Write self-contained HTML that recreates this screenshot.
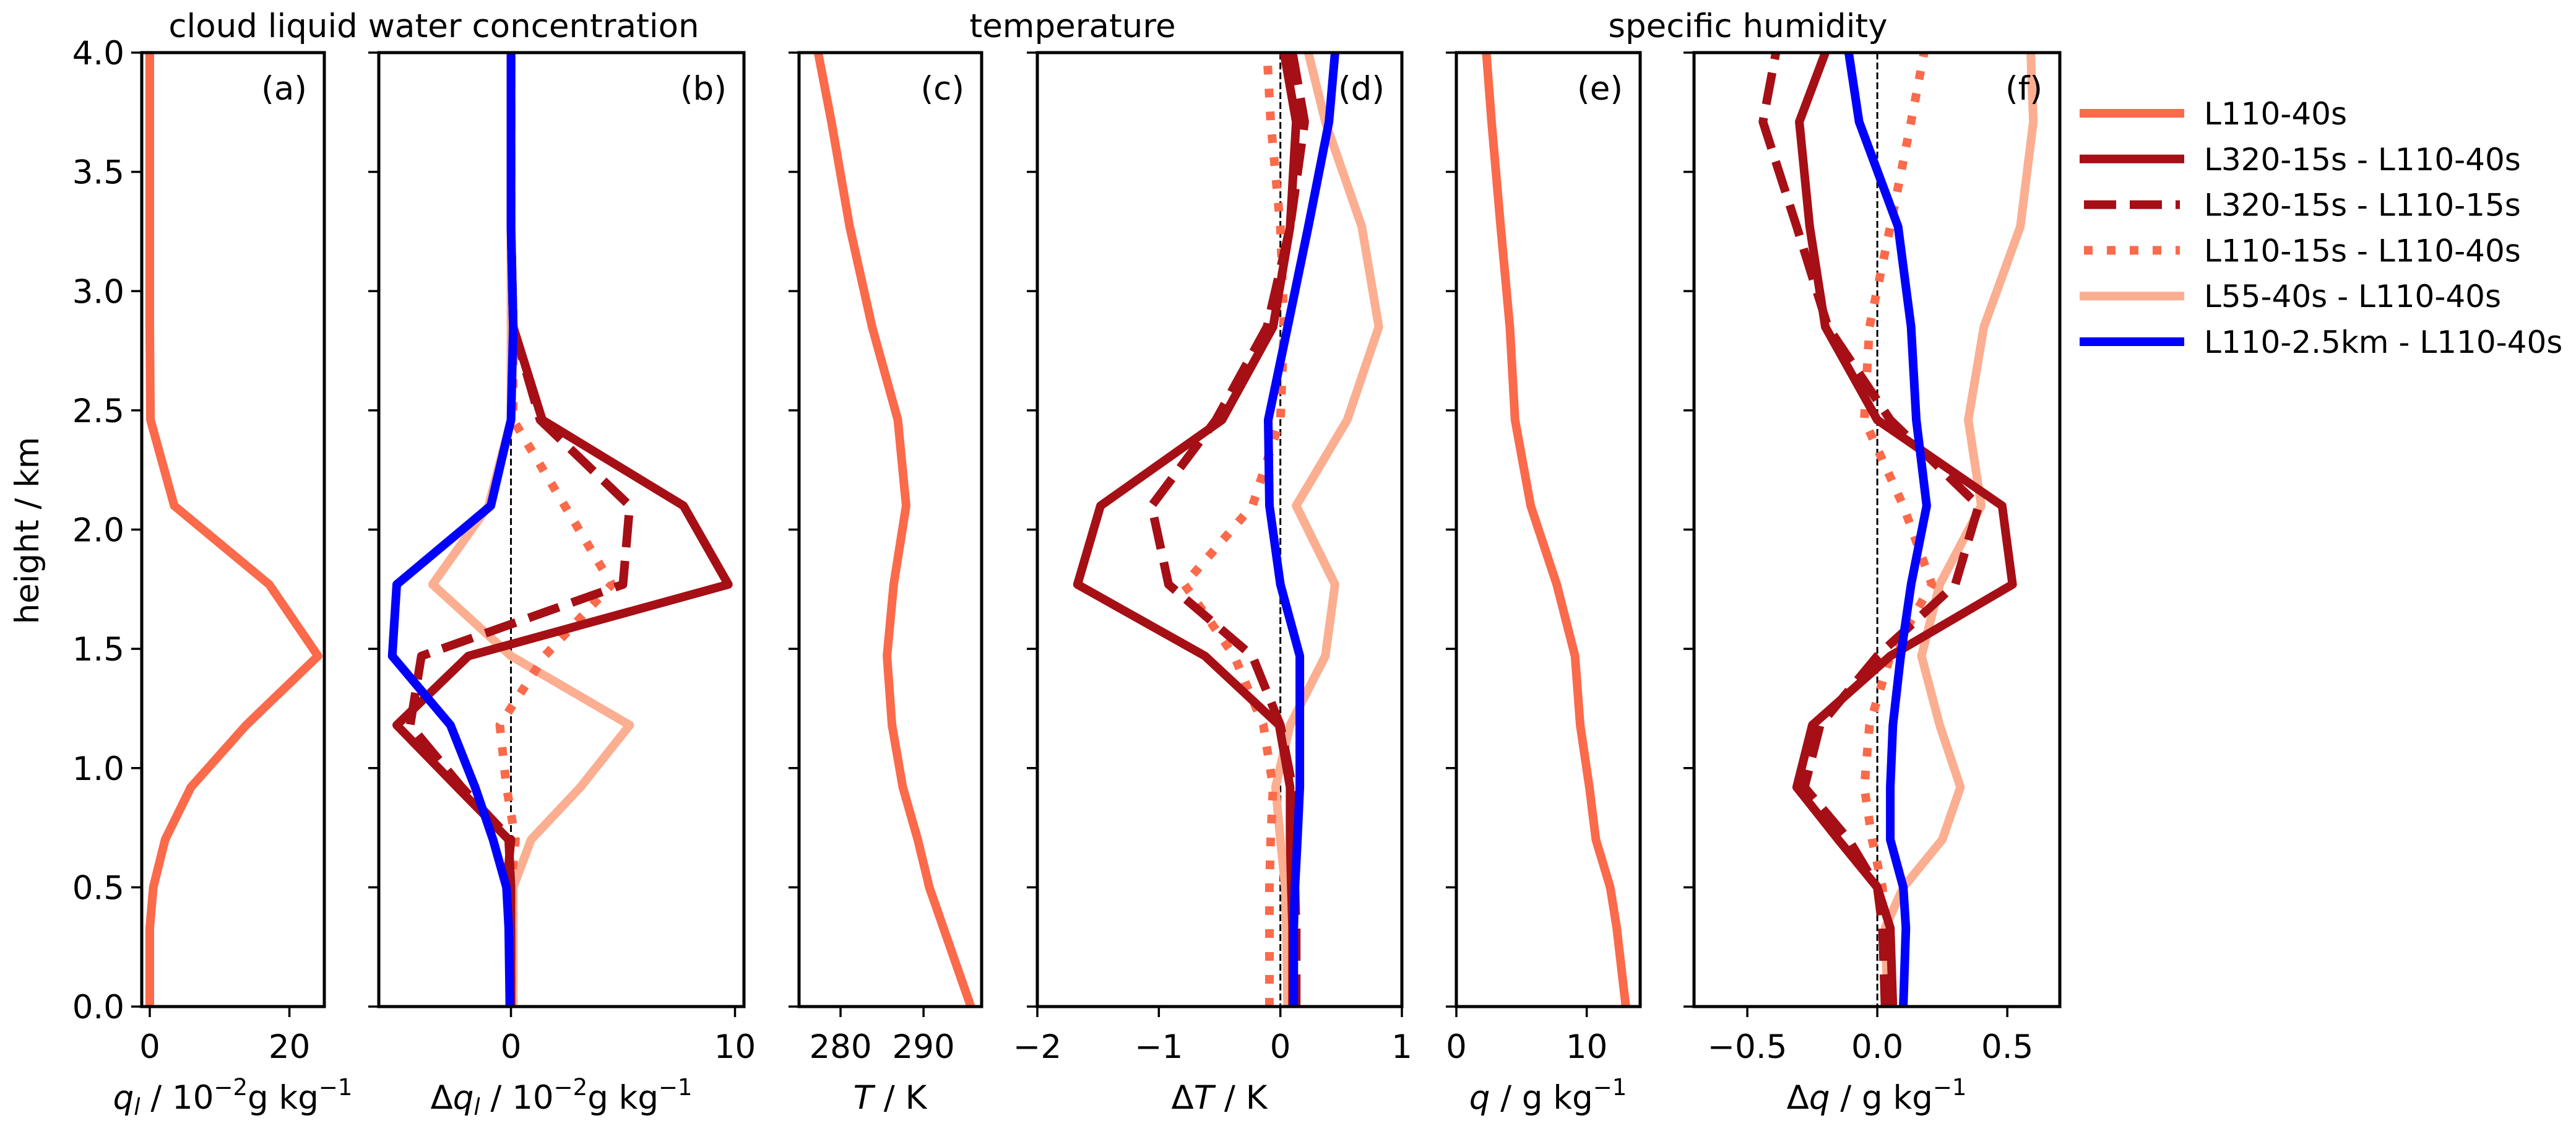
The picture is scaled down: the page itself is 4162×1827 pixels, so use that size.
<!DOCTYPE html>
<html><head><meta charset="utf-8"><style>
html,body{margin:0;padding:0;background:#fff}
svg{display:block}
text{font-family:"DejaVu Sans","Liberation Sans",sans-serif;fill:#000}
</style></head><body>
<svg id="fig" xmlns="http://www.w3.org/2000/svg" width="4162" height="1827" viewBox="0 0 4162 1827"></svg>
<script>
// shared height levels (km)
const levels = [0, 0.33, 0.5, 0.7, 0.92, 1.18, 1.47, 1.77, 2.1, 2.46, 2.85, 3.27, 3.71, 4.0];
const yTicks = [0, 0.5, 1, 1.5, 2, 2.5, 3, 3.5, 4];
const yTickLabels = ["0.0","0.5","1.0","1.5","2.0","2.5","3.0","3.5","4.0"];
// panel (a)
const qlBase = [0, 0, 0.5, 2.2, 5.9, 13.8, 24.1, 17.1, 3.5, 0.1, 0, 0, 0, 0];
// panel (b)
const dql320_40 = [0, 0, 0, -0.1, -2.4, -5.1, -1.9, 9.7, 7.7, 1.4, 0.1, 0, 0, 0];
const dql320_15 = [0, 0, -0.2, 0, -2.2, -4.5, -4.0, 5.0, 5.3, 1.3, 0.1, 0, 0, 0];
const dql110_15 = [0, 0, 0, 0.2, -0.2, -0.5, 1.5, 4.5, 2.4, 0.1, 0.1, 0, 0, 0];
const dql55 = [0.1, 0.1, 0.1, 0.9, 3.1, 5.3, 0, -3.5, -1.0, 0, 0, 0, 0, 0];
const dqlHoriz = [-0.05, -0.1, -0.2, -0.8, -1.6, -2.7, -5.3, -5.1, -0.9, 0, 0.1, 0, 0, 0];
// panel (c)
const tBase = [295.7, 292.4, 290.7, 289.3, 287.5, 286.2, 285.6, 286.4, 287.9, 286.9, 283.8, 281.1, 278.9, 277.3];
// panel (d)
const dT320_40 = [0.1, 0.1, 0.09, 0.08, 0.08, -0.01, -0.62, -1.67, -1.48, -0.48, -0.06, 0.08, 0.13, 0.03];
const dT320_15 = [0.13, 0.13, 0.12, 0.1, 0.1, 0, -0.23, -0.92, -1.06, -0.53, -0.11, 0.08, 0.2, 0.1];
const dT110_15 = [-0.09, -0.09, -0.09, -0.08, -0.06, -0.14, -0.38, -0.79, -0.23, 0.0, 0.03, 0.0, -0.08, -0.11];
const dT55 = [0.06, 0.05, 0.04, 0.0, -0.04, 0.08, 0.37, 0.45, 0.13, 0.55, 0.81, 0.67, 0.37, 0.23];
const dTHoriz = [0.11, 0.11, 0.12, 0.14, 0.16, 0.16, 0.16, 0.0, -0.09, -0.1, 0.06, 0.23, 0.4, 0.45];
// panel (e)
const qBase = [13.0, 12.3, 11.8, 10.7, 10.2, 9.5, 9.1, 7.7, 5.7, 4.5, 4.1, 3.4, 2.7, 2.3];
// panel (f)
const dq320_40 = [0.06, 0.05, 0, -0.15, -0.31, -0.25, 0.05, 0.52, 0.48, 0, -0.2, -0.26, -0.3, -0.2];
const dq320_15 = [0.03, 0.02, 0, -0.11, -0.28, -0.22, 0, 0.3, 0.39, 0.05, -0.19, -0.31, -0.44, -0.39];
const dq110_15 = [0.03, 0.03, 0.02, -0.02, -0.05, -0.03, 0.05, 0.21, 0.1, -0.05, -0.03, 0.05, 0.13, 0.18];
const dq55 = [0.04, 0.03, 0.1, 0.25, 0.32, 0.24, 0.17, 0.24, 0.4, 0.35, 0.41, 0.55, 0.6, 0.59];
const dqHoriz = [0.1, 0.11, 0.1, 0.05, 0.05, 0.06, 0.09, 0.13, 0.19, 0.15, 0.13, 0.08, -0.07, -0.11];

const NS = "http://www.w3.org/2000/svg";
const svg = document.getElementById("fig");
const TOP = 85, BOT = 1626;
function yScale(h){ return BOT - (h/4)*(BOT-TOP); }
const C = {base:"#fb6a4a", dark:"#a50f15", light:"#fcae91", blue:"#0000ff"};
const STY = {
  solid:{dash:null, cap:"square"},
  dashed:{dash:"52 22", cap:"butt"},
  dotted:{dash:"14 23", cap:"butt"}
};
function mk(tag, attrs, parent){
  const e = document.createElementNS(NS, tag);
  for (const k in attrs) e.setAttribute(k, attrs[k]);
  (parent||svg).appendChild(e);
  return e;
}
function panel(id, x0, x1, xmin, xmax, xticks, xtickLabels, showY){
  const g = mk("g", {});
  
  
  const xs = v => x0 + (v - xmin)/(xmax - xmin)*(x1 - x0);
  const cp = mk("clipPath", {id:"clip-"+id}, g);
  mk("rect", {x:x0, y:TOP, width:x1-x0, height:BOT-TOP}, cp);
  const plot = mk("g", {"clip-path":"url(#clip-"+id+")"}, g);
  yTicks.forEach((t,i)=>{
    const tk = mk("line", {x1:x0-17, x2:x0, y1:yScale(t), y2:yScale(t), stroke:"#000", "stroke-width":3.5}, g);
    
    
    if (showY){
      const tl = mk("text", {x:x0-28, y:yScale(t)+19, "text-anchor":"end", "font-size":53}, g);
      tl.textContent = yTickLabels[i];
      
      
    }
  });
  xticks.forEach((t,i)=>{
    const tk = mk("line", {x1:xs(t), x2:xs(t), y1:BOT, y2:BOT+17, stroke:"#000", "stroke-width":3.5}, g);
    
    
    const tl = mk("text", {x:xs(t), y:1709, "text-anchor":"middle", "font-size":53}, g);
    tl.textContent = xtickLabels[i];
    
    
  });
  const frame = mk("rect", {x:x0, y:TOP, width:x1-x0, height:BOT-TOP, fill:"none", stroke:"#000", "stroke-width":5}, g);
  
  
  return {g, plot, xs, x0, x1};
}
function zeroLine(p){
  const l = mk("line", {x1:p.xs(0), x2:p.xs(0), y1:TOP, y2:BOT, stroke:"#000", "stroke-width":3, "stroke-dasharray":"11 5"}, p.plot);
  
  
}
function series(p, vals, color, style, name){
  const d = vals.map((v,i)=>(i?"L":"M")+p.xs(v).toFixed(1)+","+yScale(levels[i]).toFixed(1)).join(" ");
  const s = STY[style];
  const a = {d:d, fill:"none", stroke:color, "stroke-width":14, "stroke-linejoin":"round", "stroke-linecap":s.cap};
  if (s.dash) a["stroke-dasharray"] = s.dash;
  const path = mk("path", a, p.plot);
  
  
}
function label(x, y, txt, name, size, anchor){
  const t = mk("text", {x:x, y:y, "text-anchor":anchor||"middle", "font-size":size||53});
  t.innerHTML = txt;
  
  
  return t;
}

const pa = panel("a", 229, 524, -1.15, 25, [0,20], ["0","20"], true);
series(pa, qlBase, C.base, "solid", "line-l110-40s");
const pb = panel("b", 612, 1202, -5.9, 10.4, [0,10], ["0","10"], false);
zeroLine(pb);
series(pb, dql55, C.light, "solid", "line-l55-40s-diff");
series(pb, dql110_15, C.base, "dotted", "line-l110-15s-diff");
series(pb, dql320_15, C.dark, "dashed", "line-l320-15s-l110-15s-diff");
series(pb, dql320_40, C.dark, "solid", "line-l320-15s-l110-40s-diff");
series(pb, dqlHoriz, C.blue, "solid", "line-l110-2p5km-diff");
const pc = panel("c", 1291, 1586, 275.0, 297.0, [280,290], ["280","290"], false);
series(pc, tBase, C.base, "solid", "line-l110-40s");
const pd = panel("d", 1676, 2265, -2, 1, [-2,-1,0,1], ["\u22122","\u22121","0","1"], false);
zeroLine(pd);
series(pd, dT55, C.light, "solid", "line-l55-40s-diff");
series(pd, dT110_15, C.base, "dotted", "line-l110-15s-diff");
series(pd, dT320_15, C.dark, "dashed", "line-l320-15s-l110-15s-diff");
series(pd, dT320_40, C.dark, "solid", "line-l320-15s-l110-40s-diff");
series(pd, dTHoriz, C.blue, "solid", "line-l110-2p5km-diff");
const pe = panel("e", 2353, 2650, 0, 14.1, [0,10], ["0","10"], false);
series(pe, qBase, C.base, "solid", "line-l110-40s");
const pf = panel("f", 2737, 3328, -0.705, 0.702, [-0.5,0,0.5], ["\u22120.5","0.0","0.5"], false);
zeroLine(pf);
series(pf, dq55, C.light, "solid", "line-l55-40s-diff");
series(pf, dq110_15, C.base, "dotted", "line-l110-15s-diff");
series(pf, dq320_15, C.dark, "dashed", "line-l320-15s-l110-15s-diff");
series(pf, dq320_40, C.dark, "solid", "line-l320-15s-l110-40s-diff");
series(pf, dqHoriz, C.blue, "solid", "line-l110-2p5km-diff");

[["(a)",524],["(b)",1202],["(c)",1586],["(d)",2265],["(e)",2650],["(f)",3328]].forEach(l=>{
  label(l[1]-28, 161, l[0], "panel-letter", 53, "end");
});
label(701, 60, "cloud liquid water concentration", "title-cloud-liquid-water", 53);
label(1733, 60, "temperature", "title-temperature", 53);
label(2824, 60, "specific humidity", "title-specific-humidity", 53);
const yl = label(0, 0, "height / km", "y-axis-title", 53);
yl.setAttribute("transform", "translate(62,857) rotate(-90)");
const sup = '<tspan dy="-22" font-size="37">', endsup = '</tspan><tspan dy="22">';
label(376, 1791, '<tspan font-style="italic">q</tspan><tspan font-style="italic" font-size="37" dy="10">l</tspan><tspan dy="-10"> / 10</tspan>'+sup+'\u22122'+endsup+'g kg</tspan>'+sup+'\u22121</tspan>', "x-axis-title-a", 53);
label(907, 1791, '\u0394<tspan font-style="italic">q</tspan><tspan font-style="italic" font-size="37" dy="10">l</tspan><tspan dy="-10"> / 10</tspan>'+sup+'\u22122'+endsup+'g kg</tspan>'+sup+'\u22121</tspan>', "x-axis-title-b", 53);
label(1438, 1791, '<tspan font-style="italic">T</tspan> / K', "x-axis-title-c", 53);
label(1970, 1791, '\u0394<tspan font-style="italic">T</tspan> / K', "x-axis-title-d", 53);
label(2501, 1791, '<tspan font-style="italic">q</tspan> / g kg'+sup+'\u22121</tspan>', "x-axis-title-e", 53);
label(3032, 1791, '\u0394<tspan font-style="italic">q</tspan> / g kg'+sup+'\u22121</tspan>', "x-axis-title-f", 53);

const legNames = ["L110-40s","L320-15s - L110-40s","L320-15s - L110-15s","L110-15s - L110-40s","L55-40s - L110-40s","L110-2.5km - L110-40s"];
const legColors = [C.base, C.dark, C.dark, C.base, C.light, C.blue];
const legStyles = ["solid","solid","dashed","dotted","solid","solid"];
const lg = mk("g", {});


legNames.forEach((n,i)=>{
  const y = 183 + i*73.8;
  const s = STY[legStyles[i]];
  const a = {x1:3367, x2:3522, y1:y, y2:y, stroke:legColors[i], "stroke-width":14, "stroke-linecap":s.cap};
  if (s.dash) a["stroke-dasharray"] = s.dash;
  const ln = mk("line", a, lg);
  
  
  const t = mk("text", {x:3561, y:y+18, "font-size":50}, lg);
  t.textContent = n;
  
  
});
</script>
</body></html>
